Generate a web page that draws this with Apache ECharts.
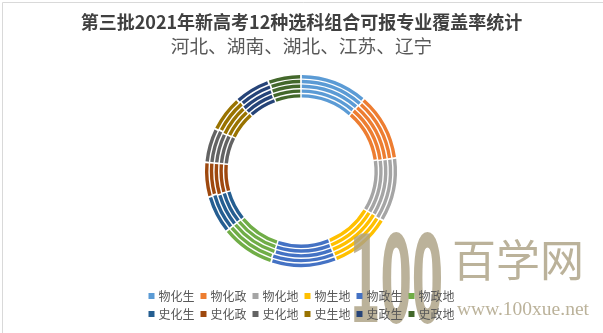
<!DOCTYPE html>
<html><head><meta charset="utf-8">
<script src="https://cdn.jsdelivr.net/npm/echarts@6/dist/echarts.min.js"></script>
<style>html,body{margin:0;padding:0;background:#fff}#c{width:603px;height:333px}</style>
</head><body><div id="c"></div>
<script>
const titleText = '第三批2021年新高考12种选科组合可报专业覆盖率统计';
const subtitleText = '河北、湖南、湖北、江苏、辽宁';
const categories = ['物化生','物化政','物化地','物生地','物政生','物政地','史化生','史化政','史化地','史生地','史政生','史政地'];
const provinces = ['河北','湖南','湖北','江苏','辽宁'];
const hebei  = [96,96,91,87,93,77,54,49,49,51,51,47];
const hunan  = [97,95,92,86,94,76,55,48,50,52,50,46];
const hubei  = [96,96,90,88,92,78,53,50,48,51,52,47];
const jiangsu= [95,97,91,87,93,77,54,49,49,50,51,48];
const liaoning=[96,95,92,86,94,76,55,49,50,51,50,47];
const ringValues = [hebei, hunan, hubei, jiangsu, liaoning];
const colors = ['#5B9BD5','#ED7D31','#A5A5A5','#FFC000','#4472C4','#70AD47','#255E91','#9E480E','#636363','#997300','#264478','#43682B'];

const chart = echarts.init(document.getElementById('c'), null, {renderer:'canvas'});
const outerR = 96, pitch = 4.8, thick = 3.4;
const series = ringValues.map((vals, i) => {
  const ro = outerR - i * pitch;
  return {
    type: 'pie', name: provinces[i],
    center: [301, 171], radius: [ro - thick, ro],
    startAngle: 90, clockwise: true, padAngle: 1.1,
    label: {show: false}, labelLine: {show: false},
    emphasis: {disabled: true}, silent: true,
    animation: false,
    data: categories.map((c, j) => ({name: c, value: vals[j]}))
  };
});
const legendBase = {
  orient: 'horizontal', left: 'center', icon: 'rect', z: 10,
  itemWidth: 6, itemHeight: 6, itemGap: 6,
  textStyle: {fontSize: 12, color: '#595959', fontFamily: 'Noto Sans CJK SC', padding: [0,0,0,-1]},
  selectedMode: false
};
const wm = 'rgba(172,161,132,0.82)';
chart.setOption({
  animation: false,
  color: colors,
  title: [
    {text: titleText, left: 'center', top: 8,
     textStyle: {fontSize: 18, fontWeight: 'bold', color: '#404040', fontFamily: 'Noto Sans CJK SC'}},
    {text: subtitleText, left: 'center', top: 32,
     textStyle: {fontSize: 18.7, fontWeight: 'normal', color: '#595959', fontFamily: 'Noto Sans CJK SC'}}
  ],
  legend: [
    Object.assign({}, legendBase, {top: 285, data: categories.slice(0, 6)}),
    Object.assign({}, legendBase, {top: 303, data: categories.slice(6)})
  ],
  graphic: [
    {type: 'rect', left: 0, top: 0, z: -1, shape: {width: 602, height: 332}, style: {fill: 'none', stroke: '#d9d9d9', lineWidth: 1}},
    {type: 'text', x: 349, y: 229, scaleX: 0.37, z: 5, style: {text: '100', fontSize: 122, fontFamily: 'DejaVu Sans', fontWeight: 'bold', fill: wm}},
    {type: 'text', x: 452, y: 238, z: 5, style: {text: '百学网', fontSize: 44, fontFamily: 'Noto Sans CJK SC', fill: wm}},
    {type: 'text', x: 457, y: 300, z: 5, style: {text: 'www.100xue.net', fontSize: 19.5, fontFamily: 'Liberation Serif', fill: wm}}
  ],
  series: series
});
</script></body></html>
